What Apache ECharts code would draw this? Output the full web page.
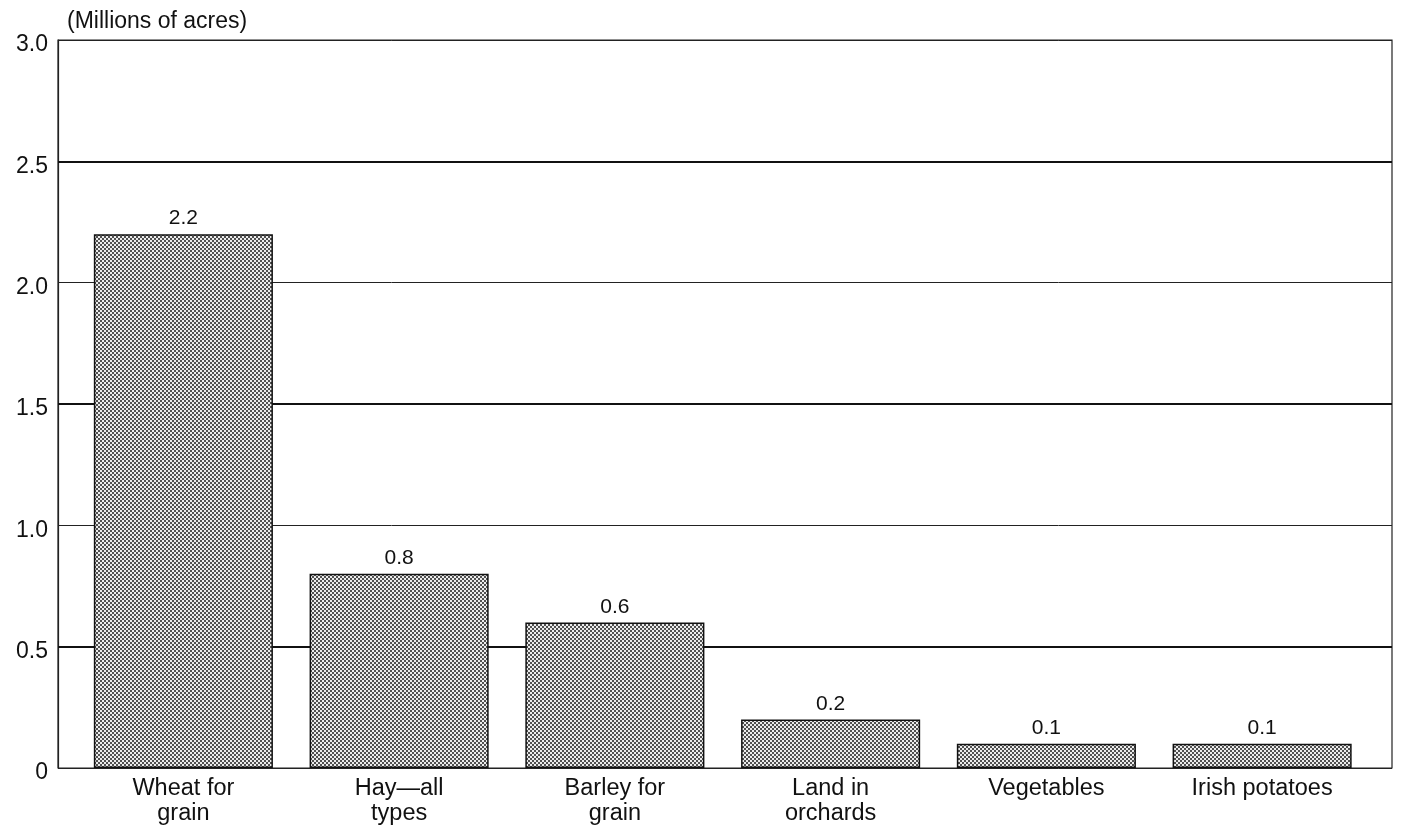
<!DOCTYPE html>
<html><head><meta charset="utf-8">
<script src="https://cdn.jsdelivr.net/npm/echarts@6/dist/echarts.min.js"></script>
<style>html,body{margin:0;padding:0;background:#fff}#c{width:1401px;height:829px}</style>
</head><body><div id="c"></div>
<script>
const categories = ['Wheat for\ngrain', 'Hay\u2014all\ntypes', 'Barley for\ngrain', 'Land in\norchards', 'Vegetables', 'Irish potatoes'];
const values = [2.2, 0.8, 0.6, 0.2, 0.1, 0.1];
const valueLabels = ['2.2', '0.8', '0.6', '0.2', '0.1', '0.1'];
const yTickLabels = {0: '0', 0.5: '0.5', 1: '1.0', 1.5: '1.5', 2: '2.0', 2.5: '2.5', 3: '3.0'};
const heavyLines = [0.5, 1.5, 2.5];

const pc = document.createElement('canvas');
pc.width = 4; pc.height = 4;
const g = pc.getContext('2d');
g.fillStyle = '#ececec'; g.fillRect(0,0,4,4);
g.fillStyle = '#505050'; g.fillRect(0,0,2,2); g.fillRect(2,2,2,2);

const font = 'Liberation Sans, Arial, Helvetica, sans-serif';
const chart = echarts.init(document.getElementById('c'));
chart.setOption({
  animation: false,
  title: {text: '(Millions of acres)', left: 62, top: 5, textStyle: {fontFamily: font, fontSize: 23, fontWeight: 'normal', color: '#111'}},
  grid: [
    {left: 58, right: 9, top: 40, bottom: 61, show: true, borderColor: '#222', borderWidth: 1.2, backgroundColor: 'transparent'},
    {left: 75.5, right: 31, top: 40, bottom: 61}
  ],
  xAxis: [
    {gridIndex: 0, type: 'category', data: categories, show: false},
    {gridIndex: 1, type: 'category', data: categories, axisLine: {show: false}, axisTick: {show: false},
     axisLabel: {fontFamily: font, fontSize: 23.5, color: '#111', margin: 8, lineHeight: 25, interval: 0}}
  ],
  yAxis: [
    {gridIndex: 0, type: 'value', min: 0, max: 3, interval: 0.5,
     axisLine: {show: true, lineStyle: {color: '#222', width: 1.2}}, axisTick: {show: false},
     axisLabel: {color: '#111', margin: 10, verticalAlign: 'middle',
       formatter: v => yTickLabels[v] !== undefined ? '{a|' + yTickLabels[v] + '}' : '',
       rich: {a: {fontFamily: font, fontSize: 23, lineHeight: 23, color: '#111', padding: [10, 0, 0, 0]}}},
     splitLine: {show: true, lineStyle: {color: '#222', width: 1}}},
    {gridIndex: 1, type: 'value', min: 0, max: 3, interval: 0.5, show: false, splitLine: {show: false}}
  ],
  series: [
    {type: 'line', xAxisIndex: 0, yAxisIndex: 0, data: [], silent: true,
     markLine: {symbol: 'none', silent: true, label: {show: false},
       lineStyle: {color: '#111', width: 2.2, type: 'solid'},
       data: heavyLines.map(v => ({yAxis: v}))}},
    {type: 'bar', xAxisIndex: 1, yAxisIndex: 1, data: values, barWidth: '83%',
     itemStyle: {color: {image: pc, repeat: 'repeat'}, borderColor: '#111', borderWidth: 1.5},
     label: {show: true, position: 'top', distance: 5, fontFamily: font, fontSize: 21, color: '#111',
       formatter: p => valueLabels[p.dataIndex]},
     z: 5}
  ]
});
</script></body></html>
